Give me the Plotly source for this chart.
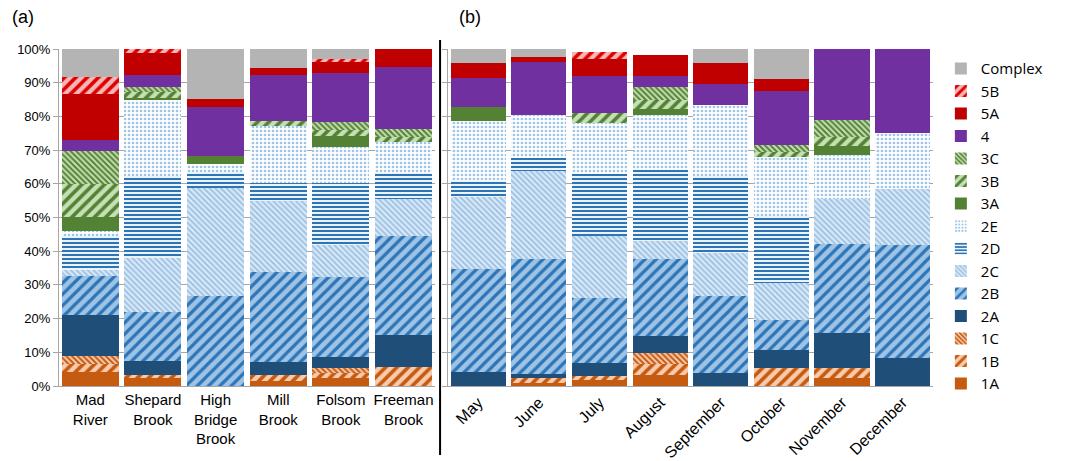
import plotly.graph_objects as go

# ---- categories ----
sites = ["Mad<br>River", "Shepard<br>Brook", "High<br>Bridge<br>Brook",
         "Mill<br>Brook", "Folsom<br>Brook", "Freeman<br>Brook"]
months = ["May", "June", "July", "August", "September", "October",
          "November", "December"]
yticks = list(range(0, 101, 10))
ytick_labels = [f"{v}%" for v in yticks]

# ---- percentage of reach length in each class (segment heights) ----
# (a) by site
site_1A = [4.3, 2.3, 0.0, 1.6, 2.5, 0.0]
site_1B = [2.2, 1.0, 0.0, 1.7, 1.5, 5.7]
site_1C = [2.5, 0.0, 0.0, 0.0, 1.4, 0.0]
site_2A = [12.1, 4.2, 0.0, 3.7, 3.1, 9.3]
site_2B = [11.6, 14.5, 26.8, 26.7, 23.8, 29.6]
site_2C = [1.6, 15.9, 31.9, 21.3, 9.4, 10.9]
site_2D = [10.1, 24.3, 4.7, 5.2, 18.5, 7.7]
site_2E = [1.6, 22.6, 2.4, 17.0, 10.7, 9.1]
site_3A = [4.1, 0.8, 2.5, 0.0, 3.2, 0.0]
site_3B = [9.9, 1.5, 0.0, 1.3, 1.9, 1.7]
site_3C = [9.8, 1.5, 0.0, 0.0, 2.3, 2.2]
site_4 = [3.3, 3.8, 14.5, 13.9, 14.6, 18.5]
site_5A = [13.5, 6.4, 2.4, 2.0, 3.1, 5.3]
site_5B = [5.0, 1.2, 0.0, 0.0, 1.0, 0.0]
site_cx = [8.4, 0.0, 14.8, 5.6, 3.0, 0.0]

# (b) by month
month_1A = [0.0, 1.0, 1.8, 3.3, 0.0, 0.0, 2.3, 0.0]
month_1B = [0.0, 1.5, 1.2, 3.2, 0.0, 5.2, 2.9, 0.0]
month_1C = [0.0, 0.0, 0.0, 3.2, 0.0, 0.0, 0.0, 0.0]
month_2A = [4.3, 1.1, 3.9, 5.0, 4.0, 5.5, 10.4, 8.2]
month_2B = [30.4, 34.0, 19.3, 22.9, 22.7, 8.9, 26.6, 33.5]
month_2C = [21.5, 26.1, 18.4, 5.3, 12.9, 10.9, 13.2, 16.8]
month_2D = [4.7, 4.1, 18.3, 21.3, 22.6, 19.8, 0.0, 0.0]
month_2E = [17.6, 12.7, 15.1, 16.3, 21.3, 17.6, 13.0, 16.7]
month_3A = [4.2, 0.0, 0.0, 1.7, 0.0, 0.0, 2.7, 0.0]
month_3B = [0.0, 0.0, 3.0, 2.8, 0.0, 1.6, 2.7, 0.0]
month_3C = [0.0, 0.0, 0.0, 3.7, 0.0, 1.9, 5.2, 0.0]
month_4 = [8.7, 15.6, 10.9, 3.2, 6.2, 16.2, 21.0, 24.8]
month_5A = [4.4, 1.5, 5.2, 6.4, 6.1, 3.5, 0.0, 0.0]
month_5B = [0.0, 0.0, 2.0, 0.0, 0.0, 0.0, 0.0, 0.0]
month_cx = [4.2, 2.4, 0.0, 0.0, 4.2, 8.9, 0.0, 0.0]

# ---- colours ----
ORANGE, PEACH = "#C55A11", "#F8CBAD"
NAVY, BLUE, LBLUE, PALE = "#1F4E79", "#2E75B6", "#9DC3E6", "#DEEBF7"
GREEN, LGREEN = "#548235", "#C5E0B4"
PURPLE, RED, PINK, GRAY = "#7030A0", "#C00000", "#F4B6B6", "#B4B4B4"


def solid(c):
    return dict(color=c, line=dict(width=0))


def hatch(shape, fg, bg, size, solidity):
    return dict(color=bg, line=dict(width=0),
                pattern=dict(shape=shape, fgcolor=fg, bgcolor=bg,
                             size=size, solidity=solidity, fillmode="replace"))


classes = [
    ("1A", site_1A, month_1A, solid(ORANGE)),
    ("1B", site_1B, month_1B, hatch("/", ORANGE, PEACH, 8, 0.45)),
    ("1C", site_1C, month_1C, hatch("\\", ORANGE, PEACH, 4, 0.5)),
    ("2A", site_2A, month_2A, solid(NAVY)),
    ("2B", site_2B, month_2B, hatch("/", BLUE, LBLUE, 8, 0.4)),
    ("2C", site_2C, month_2C, hatch("\\", LBLUE, PALE, 4, 0.5)),
    ("2D", site_2D, month_2D, hatch("-", BLUE, "#EAF2FA", 4, 0.5)),
    ("2E", site_2E, month_2E, hatch(".", LBLUE, "#FFFFFF", 4, 0.35)),
    ("3A", site_3A, month_3A, solid(GREEN)),
    ("3B", site_3B, month_3B, hatch("/", GREEN, LGREEN, 8, 0.45)),
    ("3C", site_3C, month_3C, hatch("\\", GREEN, LGREEN, 4, 0.5)),
    ("4", site_4, month_4, solid(PURPLE)),
    ("5A", site_5A, month_5A, solid(RED)),
    ("5B", site_5B, month_5B, hatch("/", "#E00000", PINK, 8, 0.45)),
    ("Complex", site_cx, month_cx, solid(GRAY)),
]

fig = go.Figure()
for name, sv, mv, mk in classes:
    fig.add_trace(go.Bar(x=sites, y=sv, name=name, marker=mk,
                         legendgroup=name, showlegend=True,
                         xaxis="x", yaxis="y"))
    fig.add_trace(go.Bar(x=months, y=mv, name=name, marker=mk,
                         legendgroup=name, showlegend=False,
                         xaxis="x2", yaxis="y2"))

AX = "#A6A6A6"
SANS = "Liberation Sans, Arial, sans-serif"

fig.update_layout(
    width=1070, height=461,
    margin=dict(l=59, r=137, t=49, b=75),
    paper_bgcolor="white", plot_bgcolor="white",
    barmode="stack", bargap=0.09,
    showlegend=True,
    legend=dict(traceorder="reversed", x=1.009, y=0.99,
                xanchor="left", yanchor="top", maxheight=440,
                font=dict(family="Open Sans, sans-serif", size=15, color="#000000"),
                bgcolor="rgba(0,0,0,0)"),
    xaxis=dict(domain=[0, 0.430], anchor="y", tickangle=0, automargin=False,
               showline=True, linecolor=AX, linewidth=1, ticks="",
               tickfont=dict(family=SANS, size=15, color="#000000")),
    yaxis=dict(range=[0, 100], tickmode="array", tickvals=yticks, ticktext=ytick_labels,
               automargin=False,
               showgrid=True, gridcolor=AX, gridwidth=1,
               showline=True, linecolor=AX, linewidth=1,
               ticks="outside", ticklen=5, tickcolor=AX,
               zeroline=False,
               tickfont=dict(family=SANS, size=13, color="#000000")),
    xaxis2=dict(domain=[0.445, 1.0], anchor="y2", tickangle=-45, automargin=False,
                showline=True, linecolor=AX, linewidth=1, ticks="",
                tickfont=dict(family=SANS, size=16, color="#000000")),
    yaxis2=dict(range=[0, 100], tickvals=yticks, anchor="x2", automargin=False,
                showticklabels=False, showgrid=True, gridcolor=AX, gridwidth=1,
                showline=True, linecolor=AX, linewidth=1,
                ticks="outside", ticklen=5, tickcolor=AX, zeroline=False),
    shapes=[dict(type="line", xref="paper", yref="paper",
                 x0=0.436, x1=0.436, y0=1.027, y1=-0.205,
                 line=dict(color="#000000", width=2))],
    annotations=[
        dict(text="(a)", xref="paper", yref="paper", x=-0.056, y=1.095,
             xanchor="left", yanchor="middle", showarrow=False,
             font=dict(family=SANS, size=18, color="#000000")),
        dict(text="(b)", xref="paper", yref="paper", x=0.455, y=1.095,
             xanchor="left", yanchor="middle", showarrow=False,
             font=dict(family=SANS, size=18, color="#000000")),
    ],
)

fig.write_html("out.html")
